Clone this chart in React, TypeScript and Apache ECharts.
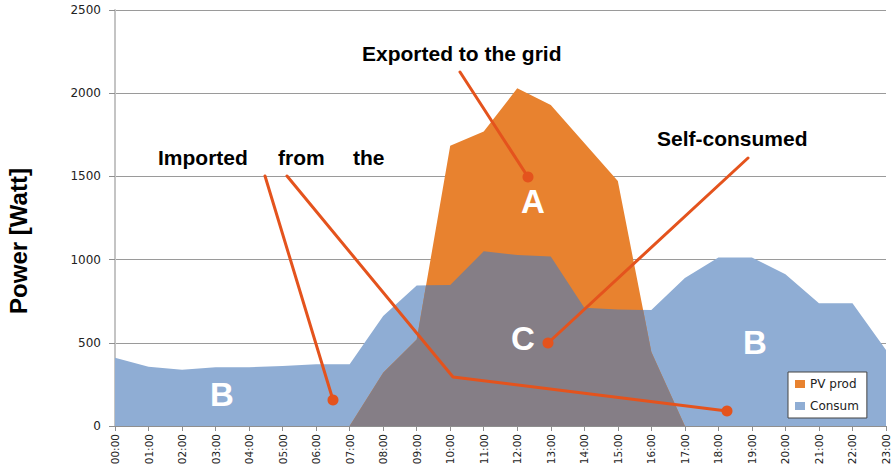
import React, { useEffect, useRef } from "react";
import * as echarts from "echarts";

const HOURS = [0, 1, 2, 3, 4, 5, 6, 7, 8, 9, 10, 11, 12, 13, 14, 15, 16, 17, 18, 19, 20, 21, 22, 23];
const CONSUM = [410, 356, 338, 353, 353, 360, 371, 371, 661, 845, 847, 1050, 1027, 1018, 710, 700, 697, 890, 1013, 1013, 912, 738, 738, 457];
const PV_PROD = [0, 0, 0, 0, 0, 0, 0, 0, 320, 520, 1684, 1770, 2029, 1929, 1700, 1473, 445, 0, 0, 0, 0, 0, 0, 0];
const Y_MIN = 0;
const Y_MAX = 2500;
const Y_STEP = 500;

function buildOverlap(): number[][] {
  const pts: number[][] = [];
  for (let i = 0; i < HOURS.length; i++) {
    pts.push([HOURS[i], Math.min(PV_PROD[i], CONSUM[i])]);
    if (i < HOURS.length - 1) {
      const d0 = PV_PROD[i] - CONSUM[i];
      const d1 = PV_PROD[i + 1] - CONSUM[i + 1];
      if (d0 * d1 < 0) {
        const t = d0 / (d0 - d1);
        const x = HOURS[i] + t * (HOURS[i + 1] - HOURS[i]);
        const v = PV_PROD[i] + t * (PV_PROD[i + 1] - PV_PROD[i]);
        pts.push([x, v]);
      }
    }
  }
  return pts;
}

export default function App() {
  const ref = useRef<HTMLDivElement>(null);
  useEffect(() => {
    if (!ref.current) return;
    const chart = echarts.init(ref.current, undefined, { renderer: "svg" });
    const overlap = buildOverlap();
    const pvData = HOURS.map((h, i) => [h, PV_PROD[i]]);
    const cData = HOURS.map((h, i) => [h, CONSUM[i]]);

    const RED = "#E4531D";
    const txt = (text: string, x: number, y: number, font: string, fill: string) => ({
      type: "text",
      x,
      y,
      z: 100,
      style: {
        text,
        font,
        fill,
        textAlign: "left",
        textVerticalAlign: "middle",
        align: "left",
        verticalAlign: "middle",
      },
    });
    const letter = (text: string, x: number, y: number) => ({
      type: "text",
      x,
      y,
      z: 100,
      style: {
        text,
        font: 'bold 33px "Liberation Sans", Arial, sans-serif',
        fill: "#ffffff",
        textAlign: "center",
        textVerticalAlign: "middle",
        align: "center",
        verticalAlign: "middle",
      },
    });
    const line = (points: number[][]) => ({
      type: "polyline",
      z: 90,
      shape: { points },
      style: { stroke: RED, lineWidth: 3, fill: null, lineCap: "round", lineJoin: "round" },
    });
    const dot = (x: number, y: number) => ({
      type: "circle",
      z: 91,
      shape: { cx: x, cy: y, r: 5.5 },
      style: { fill: RED },
    });
    const boldFont = 'bold 21px "Liberation Sans", Arial, sans-serif';

    const areaSeries = (name: string, data: number[][], color: string, z: number) => ({
      name,
      type: "line",
      data,
      symbol: "none",
      showSymbol: false,
      lineStyle: { width: 0 },
      areaStyle: { color, opacity: 1 },
      itemStyle: { color },
      z,
      silent: true,
    });

    chart.setOption({
      animation: false,
      grid: { left: 115, right: 8, top: 10, bottom: 42, containLabel: false, outerBoundsMode: "none" },
      legend: {
        data: [
          { name: "PV prod", itemStyle: { color: "#E8822F" } },
          { name: "Consum", itemStyle: { color: "#8FADD4" } },
        ],
        orient: "vertical",
        left: 788,
        top: 372,
        icon: "rect",
        itemWidth: 10,
        itemHeight: 8,
        itemGap: 8,
        padding: [5, 8, 5, 7],
        backgroundColor: "#ffffff",
        borderColor: "#444444",
        borderWidth: 1,
        borderRadius: 0,
        textStyle: { fontFamily: "DejaVu Sans", fontSize: 12, color: "#222", lineHeight: 14 },
      },
      xAxis: {
        type: "value",
        min: HOURS[0],
        max: HOURS[HOURS.length - 1],
        interval: 1,
        splitLine: { show: false },
        axisLine: { show: true, lineStyle: { color: "#8f8f8f", width: 1 } },
        axisTick: { show: true, length: 5, lineStyle: { color: "#8f8f8f" } },
        axisLabel: {
          rotate: 90,
          margin: 8,
          fontFamily: "DejaVu Sans",
          fontSize: 10.5,
          color: "#222",
          formatter: (v: number) => String(v).padStart(2, "0") + ":00",
        },
      },
      yAxis: {
        type: "value",
        min: Y_MIN,
        max: Y_MAX,
        interval: Y_STEP,
        splitLine: { show: true, lineStyle: { color: "#9a9a9a", width: 1 } },
        axisLine: { show: true, lineStyle: { color: "#c4c4c4", width: 2 } },
        axisTick: { show: true, length: 6, lineStyle: { color: "#8f8f8f" } },
        axisLabel: {
          margin: 14,
          fontFamily: "DejaVu Sans",
          fontSize: 12,
          color: "#222",
          formatter: (v: number) => String(v),
        },
      },
      series: [
        areaSeries("Consum", cData, "#8FADD4", 1),
        areaSeries("PV prod", pvData, "#E8822F", 2),
        areaSeries("Self-consumed", overlap, "#857E86", 3),
      ],
      graphic: [
        {
          type: "text",
          x: 18,
          y: 241,
          rotation: Math.PI / 2,
          style: {
            text: "Power [Watt]",
            font: 'bold 24px "Liberation Sans", Arial, sans-serif',
            fill: "#000",
            textAlign: "center",
            textVerticalAlign: "middle",
            align: "center",
            verticalAlign: "middle",
          },
        },
        txt("Exported to the grid", 362, 53, boldFont, "#000"),
        txt("Self-consumed", 657, 138, boldFont, "#000"),
        txt("Imported", 158, 157, boldFont, "#000"),
        txt("from", 278, 157, boldFont, "#000"),
        txt("the", 353, 157, boldFont, "#000"),
        line([[460, 72], [528, 177]]),
        dot(528, 177),
        line([[748, 158], [548, 343]]),
        dot(548, 343),
        line([[265, 176], [333, 400]]),
        dot(333, 400),
        line([[287, 176], [453, 377], [727, 411]]),
        dot(727, 411),
        letter("A", 533, 201),
        letter("C", 523, 338),
        letter("B", 222, 394),
        letter("B", 755, 342),
      ],
    });
    return () => chart.dispose();
  }, []);
  return (
    <div
      ref={ref}
      style={{ position: "absolute", left: 0, top: 0, width: 894, height: 468, background: "#fff" }}
    />
  );
}
